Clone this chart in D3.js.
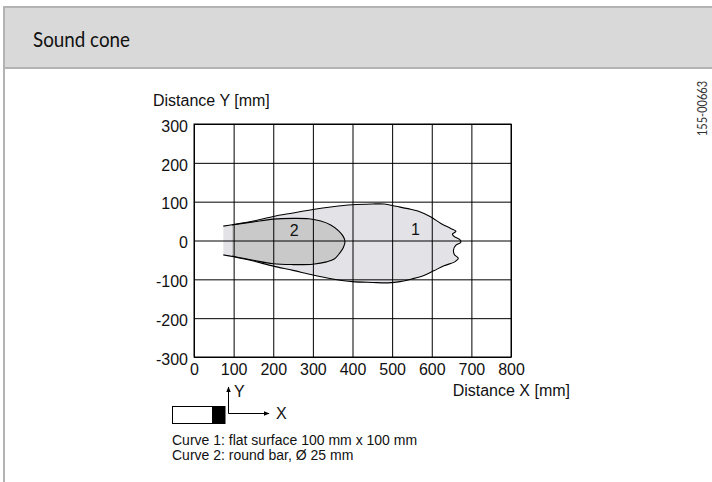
<!DOCTYPE html>
<html lang="en">
  <head>
    <meta charset="UTF-8" />
    <title>Sound cone</title>
    <script src="https://cdn.jsdelivr.net/npm/d3@7"></script>
    <style>
      body { margin: 0; background: #fff; }
      text { font-family: "Liberation Sans", Arial, sans-serif; fill: #111; }
    </style>
  </head>
  <body>
    <script>
      // axis ticks
      let xTicks = [0, 100, 200, 300, 400, 500, 600, 700, 800];
      let yTicks = [-300, -200, -100, 0, 100, 200, 300];

      // curve 1: flat surface, traced from top-left, round the tip, back along the bottom
      let curve1 = [
        [74, 37], [100, 41], [150, 50], [200, 62], [250, 71], [300, 80],
        [350, 87], [400, 92], [450, 94], [480, 94], [510, 88], [540, 82],
        [565, 76], [597, 61], [623, 44], [648, 31], [661, 24], [652, 16],
        [657, 10], [672, 1], [673, -5], [661, -12], [655, -24], [657, -36],
        [667, -46], [658, -55], [631, -65], [605, -78], [580, -90], [550, -99],
        [520, -106], [490, -109], [450, -108], [400, -106], [350, -99],
        [300, -89], [250, -77], [200, -66], [150, -53], [100, -42], [74, -37]
      ];
      // curve 2: round bar
      let curve2 = [
        [96, 40], [150, 48], [200, 55], [250, 57], [290, 56], [320, 50],
        [345, 40], [365, 25], [377, 10], [381, -3], [377, -18], [368, -32],
        [355, -47], [335, -55], [300, -61], [250, -62], [200, -60],
        [150, -51], [96, -40]
      ];
      let curveLabels = [["1", 559, 28], ["2", 253, 26]];
      let notes = ["Curve 1: flat surface 100 mm x 100 mm", "Curve 2: round bar, Ø 25 mm"];

      let svg = d3.select("body").append("svg")
        .attr("width", 712).attr("height", 482);

      // header box
      svg.append("rect").attr("x", 4).attr("y", 7).attr("width", 712).attr("height", 61)
        .attr("fill", "#d9d9d9").attr("stroke", "#b3b3b3").attr("stroke-width", 2);
      svg.append("line").attr("x1", 4).attr("x2", 4).attr("y1", 68).attr("y2", 482)
        .attr("stroke", "#b3b3b3").attr("stroke-width", 2);
      svg.append("text").attr("x", 33).attr("y", 47)
        .style("font-family", "Lato, 'Open Sans', sans-serif").style("font-size", "21px")
        .attr("textLength", 97).attr("lengthAdjust", "spacingAndGlyphs")
        .text("Sound cone");
      svg.append("text")
        .attr("transform", "translate(707,136) rotate(-90)")
        .style("font-family", "Lato, 'Open Sans', sans-serif").style("font-size", "13px")
        .style("fill", "#333")
        .attr("textLength", 55).attr("lengthAdjust", "spacingAndGlyphs")
        .text("155-00663");

      let x = d3.scaleLinear().domain([0, 800]).range([194, 511]);
      let y = d3.scaleLinear().domain([-300, 300]).range([357, 124]);

      let line = d3.line()
        .x(function (d) { return x(d[0]); })
        .y(function (d) { return y(d[1]); })
        .curve(d3.curveCatmullRom.alpha(0.5));

      // fills first, grid goes over them
      svg.append("path").attr("d", line(curve1) + "Z").attr("fill", "#e3e3e7");
      svg.append("path").attr("d", line(curve2) + "Z").attr("fill", "#c9c9c9");

      let xAxis = svg.append("g").attr("transform", "translate(0,357)")
        .call(d3.axisBottom(x).tickValues(xTicks).tickFormat(String)
          .tickSize(-233).tickSizeOuter(0).tickPadding(7));
      let yAxis = svg.append("g").attr("transform", "translate(194,0)")
        .call(d3.axisLeft(y).tickValues(yTicks).tickFormat(String)
          .tickSize(-317).tickSizeOuter(0).tickPadding(6));
      [xAxis, yAxis].forEach(function (g) {
        g.selectAll("line").attr("stroke", "#000").attr("stroke-width", 1);
        g.select(".domain").attr("stroke", "#000");
        g.selectAll("text").style("font-family", "'Liberation Sans', Arial, sans-serif")
          .style("font-size", "16px").attr("fill", "#111");
      });
      yAxis.selectAll("text").attr("dy", "0.45em");
      svg.append("rect").attr("x", 194).attr("y", 124).attr("width", 317).attr("height", 233)
        .attr("fill", "none").attr("stroke", "#000");

      // outlines
      svg.append("path").attr("d", line(curve1)).attr("fill", "none")
        .attr("stroke", "#000").attr("stroke-width", 1.1);
      svg.append("path").attr("d", line(curve2)).attr("fill", "none")
        .attr("stroke", "#000").attr("stroke-width", 1.1);

      svg.selectAll(".clabel").data(curveLabels).enter().append("text")
        .attr("class", "clabel")
        .attr("x", function (d) { return x(d[1]); })
        .attr("y", function (d) { return y(d[2]); })
        .attr("text-anchor", "middle").attr("dy", "0.35em")
        .style("font-size", "16px")
        .text(function (d) { return d[0]; });

      svg.append("text").attr("x", 153).attr("y", 106).style("font-size", "16px")
        .text("Distance Y [mm]");
      svg.append("text").attr("x", 570).attr("y", 396).attr("text-anchor", "end")
        .style("font-size", "16px").text("Distance X [mm]");

      // sensor sketch
      svg.append("rect").attr("x", 172.5).attr("y", 406.5).attr("width", 40).attr("height", 17)
        .attr("fill", "#fff").attr("stroke", "#000");
      svg.append("rect").attr("x", 212.5).attr("y", 406.5).attr("width", 12.5).attr("height", 17)
        .attr("fill", "#000").attr("stroke", "#000");
      svg.append("defs").append("marker").attr("id", "arr")
        .attr("viewBox", "0 0 10 10").attr("refX", 9).attr("refY", 5)
        .attr("markerWidth", 6).attr("markerHeight", 6).attr("orient", "auto")
        .append("path").attr("d", "M0,1L10,5L0,9Z").attr("fill", "#000");
      svg.append("line").attr("x1", 228.5).attr("y1", 413.5).attr("x2", 228.5).attr("y2", 387)
        .attr("stroke", "#000").attr("marker-end", "url(#arr)");
      svg.append("line").attr("x1", 228.5).attr("y1", 413.5).attr("x2", 269).attr("y2", 413.5)
        .attr("stroke", "#000").attr("marker-end", "url(#arr)");
      svg.append("text").attr("x", 234).attr("y", 397).style("font-size", "16px").text("Y");
      svg.append("text").attr("x", 276).attr("y", 419).style("font-size", "16px").text("X");

      svg.selectAll(".note").data(notes).enter().append("text")
        .attr("class", "note")
        .attr("x", 172).attr("y", function (d, i) { return 445 + i * 15; })
        .style("font-size", "14px")
        .text(function (d) { return d; });
    </script>
  </body>
</html>
